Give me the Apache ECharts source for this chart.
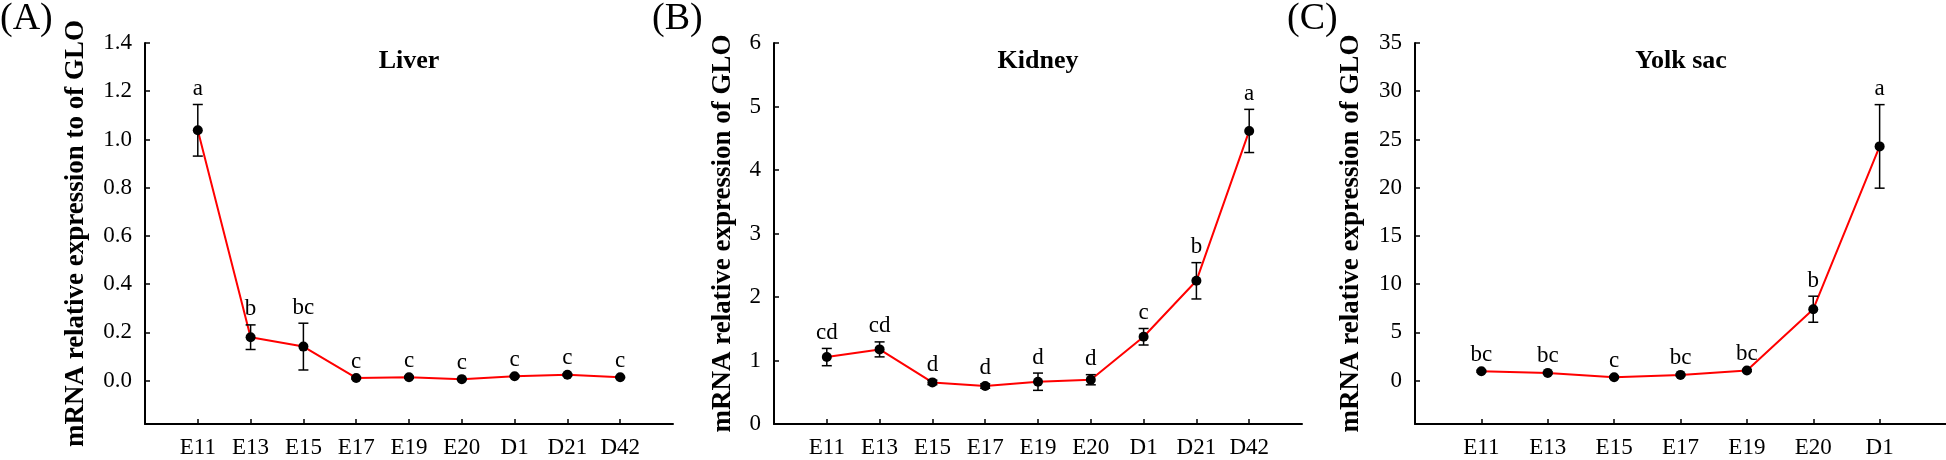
<!DOCTYPE html>
<html>
<head>
<meta charset="utf-8">
<script src="https://cdn.jsdelivr.net/npm/echarts@6/dist/echarts.min.js"></script>
<style>
html,body{margin:0;padding:0;background:#fff;}
#c{width:1946px;height:460px;}
</style>
</head>
<body>
<div id="c"></div>
<script>
// ---- data ----
const catsAB = ['E11','E13','E15','E17','E19','E20','D1','D21','D42'];
const catsC = ['E11','E13','E15','E17','E19','E20','D1'];

const liverMean = [1.038, 0.180, 0.141, 0.011, 0.014, 0.006, 0.018, 0.024, 0.014];
const liverErr  = [0.107, 0.051, 0.097, 0.004, 0.004, 0.003, 0.004, 0.004, 0.003];
const liverSig  = ['a','b','bc','c','c','c','c','c','c'];

const kidneyMean = [1.054, 1.175, 0.655, 0.598, 0.666, 0.697, 1.374, 2.255, 4.615];
const kidneyErr  = [0.136, 0.118, 0.035, 0.035, 0.136, 0.08, 0.13, 0.286, 0.34];
const kidneySig  = ['cd','cd','d','d','d','d','c','b','a'];

const yolkMean = [0.97, 0.80, 0.35, 0.59, 1.04, 7.40, 24.28];
const yolkErr  = [0.1, 0.1, 0.1, 0.1, 0.1, 1.35, 4.33];
const yolkSig  = ['bc','bc','c','bc','bc','b','a'];

const yTicksA = [0, 0.2, 0.4, 0.6, 0.8, 1.0, 1.2, 1.4];
const yTicksC = [0, 5, 10, 15, 20, 25, 30, 35];

const panelLabels = ['(A)','(B)','(C)'];
const panelTitles = ['Liver','Kidney','Yolk sac'];
const yNames = ['mRNA relative expression to of GLO','mRNA relative expression of GLO','mRNA relative expression of GLO'];

// ---- layout / style ----
const FONT = '"Liberation Serif", "Times New Roman", serif';
const grids = [
  {left: 145, top: 43, width: 528, bottom: 36},
  {left: 774, top: 43, width: 528, bottom: 36},
  {left: 1415, top: 43, width: 532, bottom: 36}
];
const nameGaps = [55, 37, 50];

const panels = [
  {cats: catsAB, mean: liverMean, err: liverErr, sig: liverSig},
  {cats: catsAB, mean: kidneyMean, err: kidneyErr, sig: kidneySig},
  {cats: catsC, mean: yolkMean, err: yolkErr, sig: yolkSig}
];

const axisLine = {show: true, lineStyle: {color: '#000', width: 2}};

const xAxes = panels.map((p, i) => {
  const idx = p.cats.map((_, k) => k + 1);
  return {
    type: 'value', gridIndex: i, min: 0, max: p.cats.length + 1,
    axisLine: Object.assign({onZero: false}, axisLine),
    axisTick: {show: true, inside: true, length: 5, customValues: idx, lineStyle: {color: '#000', width: 1.5}},
    axisLabel: {customValues: idx, formatter: v => p.cats[Math.round(v) - 1] || '', margin: 12,
                color: '#000', fontSize: 23, fontFamily: FONT},
    splitLine: {show: false}
  };
});

const yLabelStyle = {color: '#000', fontSize: 23, fontFamily: FONT, margin: 13};
const yAxes = [
  {min: -0.18, max: 1.4,
   axisLabel: Object.assign({customValues: yTicksA, formatter: v => v.toFixed(1)}, yLabelStyle),
   axisTick: {show: true, inside: true, length: 5, customValues: yTicksA, lineStyle: {color: '#000', width: 1.5}}},
  {min: 0, max: 6, interval: 1,
   axisLabel: Object.assign({}, yLabelStyle),
   axisTick: {show: true, inside: true, length: 5, lineStyle: {color: '#000', width: 1.5}}},
  {min: -4.5, max: 35,
   axisLabel: Object.assign({customValues: yTicksC}, yLabelStyle),
   axisTick: {show: true, inside: true, length: 5, customValues: yTicksC, lineStyle: {color: '#000', width: 1.5}}}
].map((a, i) => Object.assign({
  type: 'value', gridIndex: i,
  name: yNames[i], nameLocation: 'middle', nameGap: nameGaps[i],
  nameTextStyle: {color: '#000', fontSize: 27, fontWeight: 'bold', fontFamily: FONT},
  axisLine: axisLine, splitLine: {show: false}
}, a));

const series = [];
panels.forEach((p, i) => {
  series.push({
    type: 'line', xAxisIndex: i, yAxisIndex: i,
    data: p.mean.map((v, k) => [k + 1, v]),
    lineStyle: {color: '#ff0000', width: 2},
    itemStyle: {color: '#000'},
    symbol: 'circle', symbolSize: 10, showSymbol: true,
    z: 3, animation: false, silent: true
  });
  series.push({
    type: 'custom', xAxisIndex: i, yAxisIndex: i,
    data: p.mean.map((v, k) => [k + 1, v, p.err[k]]),
    z: 4, animation: false, silent: true,
    renderItem: (params, api) => {
      const x = api.value(0), m = api.value(1), e = api.value(2);
      const top = api.coord([x, m + e]);
      const bot = api.coord([x, m - e]);
      const cap = 5;
      const ls = {stroke: '#000', lineWidth: 1.5};
      return {
        type: 'group',
        children: [
          {type: 'line', shape: {x1: top[0], y1: top[1], x2: bot[0], y2: bot[1]}, style: ls},
          {type: 'line', shape: {x1: top[0] - cap, y1: top[1], x2: top[0] + cap, y2: top[1]}, style: ls},
          {type: 'line', shape: {x1: bot[0] - cap, y1: bot[1], x2: bot[0] + cap, y2: bot[1]}, style: ls},
          {type: 'text', x: top[0], y: top[1] - 4,
           style: {text: p.sig[params.dataIndex], fill: '#000', fontSize: 23, fontFamily: FONT,
                   align: 'center', verticalAlign: 'bottom'}}
        ]
      };
    }
  });
});

const titles = [];
panelLabels.forEach((t, i) => {
  const lefts = [0, 652, 1287];
  titles.push({text: t, left: lefts[i], top: 0, padding: 0,
    textStyle: {color: '#000', fontSize: 38, fontWeight: 'normal', fontFamily: FONT}});
});
panelTitles.forEach((t, i) => {
  const g = grids[i];
  titles.push({text: t, left: g.left + g.width / 2, top: 48, padding: 0, textAlign: 'center',
    textStyle: {color: '#000', fontSize: 26, fontWeight: 'bold', fontFamily: FONT}});
});

const chart = echarts.init(document.getElementById('c'), null, {renderer: 'canvas'});
chart.setOption({
  backgroundColor: '#fff',
  animation: false,
  title: titles,
  grid: grids,
  xAxis: xAxes,
  yAxis: yAxes,
  series: series
});
</script>
</body>
</html>
